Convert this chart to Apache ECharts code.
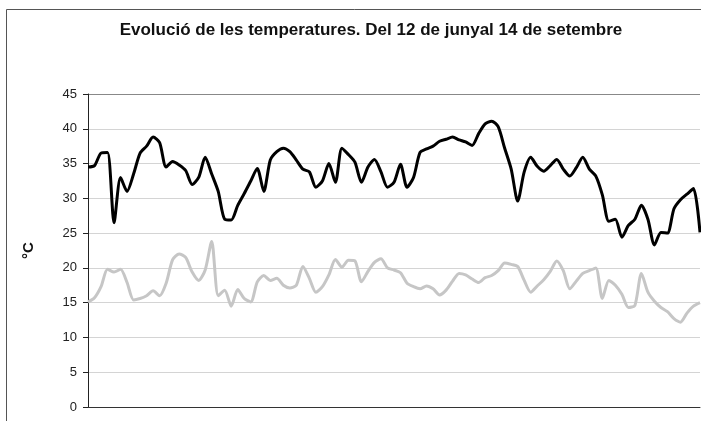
<!DOCTYPE html>
<html>
<head>
<meta charset="utf-8">
<script src="https://cdn.jsdelivr.net/npm/echarts@6/dist/echarts.min.js"></script>
<style>
html, body { margin: 0; padding: 0; background: #fff; }
#chart { width: 701px; height: 421px; }
</style>
</head>
<body>
<div id="chart"></div>
<script>
// dies del 12 de juny al 14 de setembre
const monthDays = [['juny', 12, 30], ['jul', 1, 31], ['ag', 1, 31], ['set', 1, 14]];
const days = [];
monthDays.forEach(function (m) {
    for (let d = m[1]; d <= m[2]; d++) days.push(d + ' ' + m[0]);
});

const tempMax = [
    34.5, 34.7, 36.5, 36.6, 26.5, 33.0, 31.0, 33.5, 36.5, 37.5,
    38.8, 38.0, 34.5, 35.3, 34.8, 34.0, 32.0, 33.0, 35.9, 33.5,
    31.0, 27.0, 26.9, 29.0, 30.7, 32.5, 34.3, 31.0, 35.5, 36.7,
    37.2, 36.7, 35.5, 34.2, 33.8, 31.6, 32.5, 35.0, 32.3, 37.2,
    36.3, 35.2, 32.3, 34.5, 35.6, 33.8, 31.6, 32.3, 34.9, 31.6,
    33.0, 36.6, 37.1, 37.5, 38.2, 38.5, 38.8, 38.4, 38.1, 37.6,
    39.3, 40.7, 41.1, 40.3, 37.2, 34.2, 29.6, 33.8, 35.9, 34.6,
    33.9, 34.7, 35.6, 34.2, 33.2, 34.4, 35.9, 34.2, 33.2, 30.5,
    26.7, 27.0, 24.4, 26.1, 27.0, 29.0, 27.0, 23.3, 25.1, 25.0,
    28.5, 29.8, 30.6, 31.4, 25.1
];

const tempMin = [
    15.1, 15.7, 17.3, 19.8, 19.4, 19.8, 17.9, 15.4, 15.6, 16.0,
    16.7, 16.0, 17.8, 21.2, 22.0, 21.5, 19.4, 18.2, 19.7, 23.8,
    16.0, 16.8, 14.5, 16.9, 15.6, 15.1, 18.0, 18.9, 18.2, 18.5,
    17.5, 17.1, 17.5, 20.2, 18.5, 16.5, 17.3, 19.0, 21.2, 20.1,
    21.1, 21.0, 18.0, 19.5, 20.8, 21.3, 20.0, 19.7, 19.3, 17.8,
    17.3, 17.0, 17.4, 17.0, 16.1, 16.8, 18.1, 19.2, 19.0, 18.4,
    17.9, 18.6, 18.9, 19.6, 20.7, 20.5, 20.2, 18.2, 16.5, 17.4,
    18.3, 19.5, 21.0, 19.6, 17.0, 18.1, 19.2, 19.6, 20.0, 15.6,
    18.2, 17.5, 16.2, 14.3, 14.6, 19.2, 16.5, 15.2, 14.3, 13.7,
    12.7, 12.2, 13.5, 14.5, 15.0
];

const yTicks = [0, 5, 10, 15, 20, 25, 30, 35, 40, 45];

let chart = echarts.init(document.getElementById('chart'));
chart.setOption({
    animation: false,
    backgroundColor: '#fff',
    title: {
        text: 'Evolució de les temperatures. Del 12 de junyal 14 de setembre',
        left: 366,
        top: 17,
        textAlign: 'center',
        textStyle: {
            fontFamily: 'Liberation Sans',
            fontSize: 17,
            fontWeight: 'bold',
            color: '#111'
        }
    },
    graphic: [{
        type: 'rect',
        shape: { x: 6.5, y: 9.5, width: 720, height: 440 },
        style: { fill: 'none', stroke: '#555', lineWidth: 1 },
        silent: true
    }],
    grid: {
        left: 88,
        right: 1,
        top: 94,
        bottom: 14
    },
    xAxis: {
        type: 'category',
        data: days,
        boundaryGap: false,
        axisLine: { lineStyle: { color: '#333', width: 1 } },
        axisTick: { show: false },
        axisLabel: { show: false },
        splitLine: { show: false }
    },
    yAxis: {
        type: 'value',
        min: yTicks[0],
        max: yTicks[yTicks.length - 1],
        interval: 5,
        name: '°C',
        nameLocation: 'middle',
        nameGap: 52,
        nameRotate: 90,
        nameTextStyle: {
            fontFamily: 'Liberation Sans',
            fontSize: 15,
            fontWeight: 'bold',
            color: '#111'
        },
        axisLine: { show: true, lineStyle: { color: '#222', width: 1 } },
        axisTick: { show: true, length: 5, lineStyle: { color: '#222' } },
        axisLabel: {
            margin: 11,
            fontFamily: 'Liberation Sans',
            fontSize: 13,
            color: '#222'
        },
        splitLine: {
            show: true,
            lineStyle: {
                color: ['#ccc', '#d4d4d4', '#d4d4d4', '#d4d4d4', '#d4d4d4',
                        '#d4d4d4', '#d4d4d4', '#d4d4d4', '#d4d4d4', '#888'],
                width: 1
            }
        }
    },
    series: [
        {
            name: 'Mínima',
            type: 'line',
            data: tempMin,
            symbol: 'none',
            smooth: 0.25,
            lineStyle: { color: '#c6c6c6', width: 3 },
            z: 2
        },
        {
            name: 'Màxima',
            type: 'line',
            data: tempMax,
            symbol: 'none',
            smooth: 0.25,
            lineStyle: { color: '#000', width: 3 },
            z: 3
        }
    ]
});
</script>
</body>
</html>
